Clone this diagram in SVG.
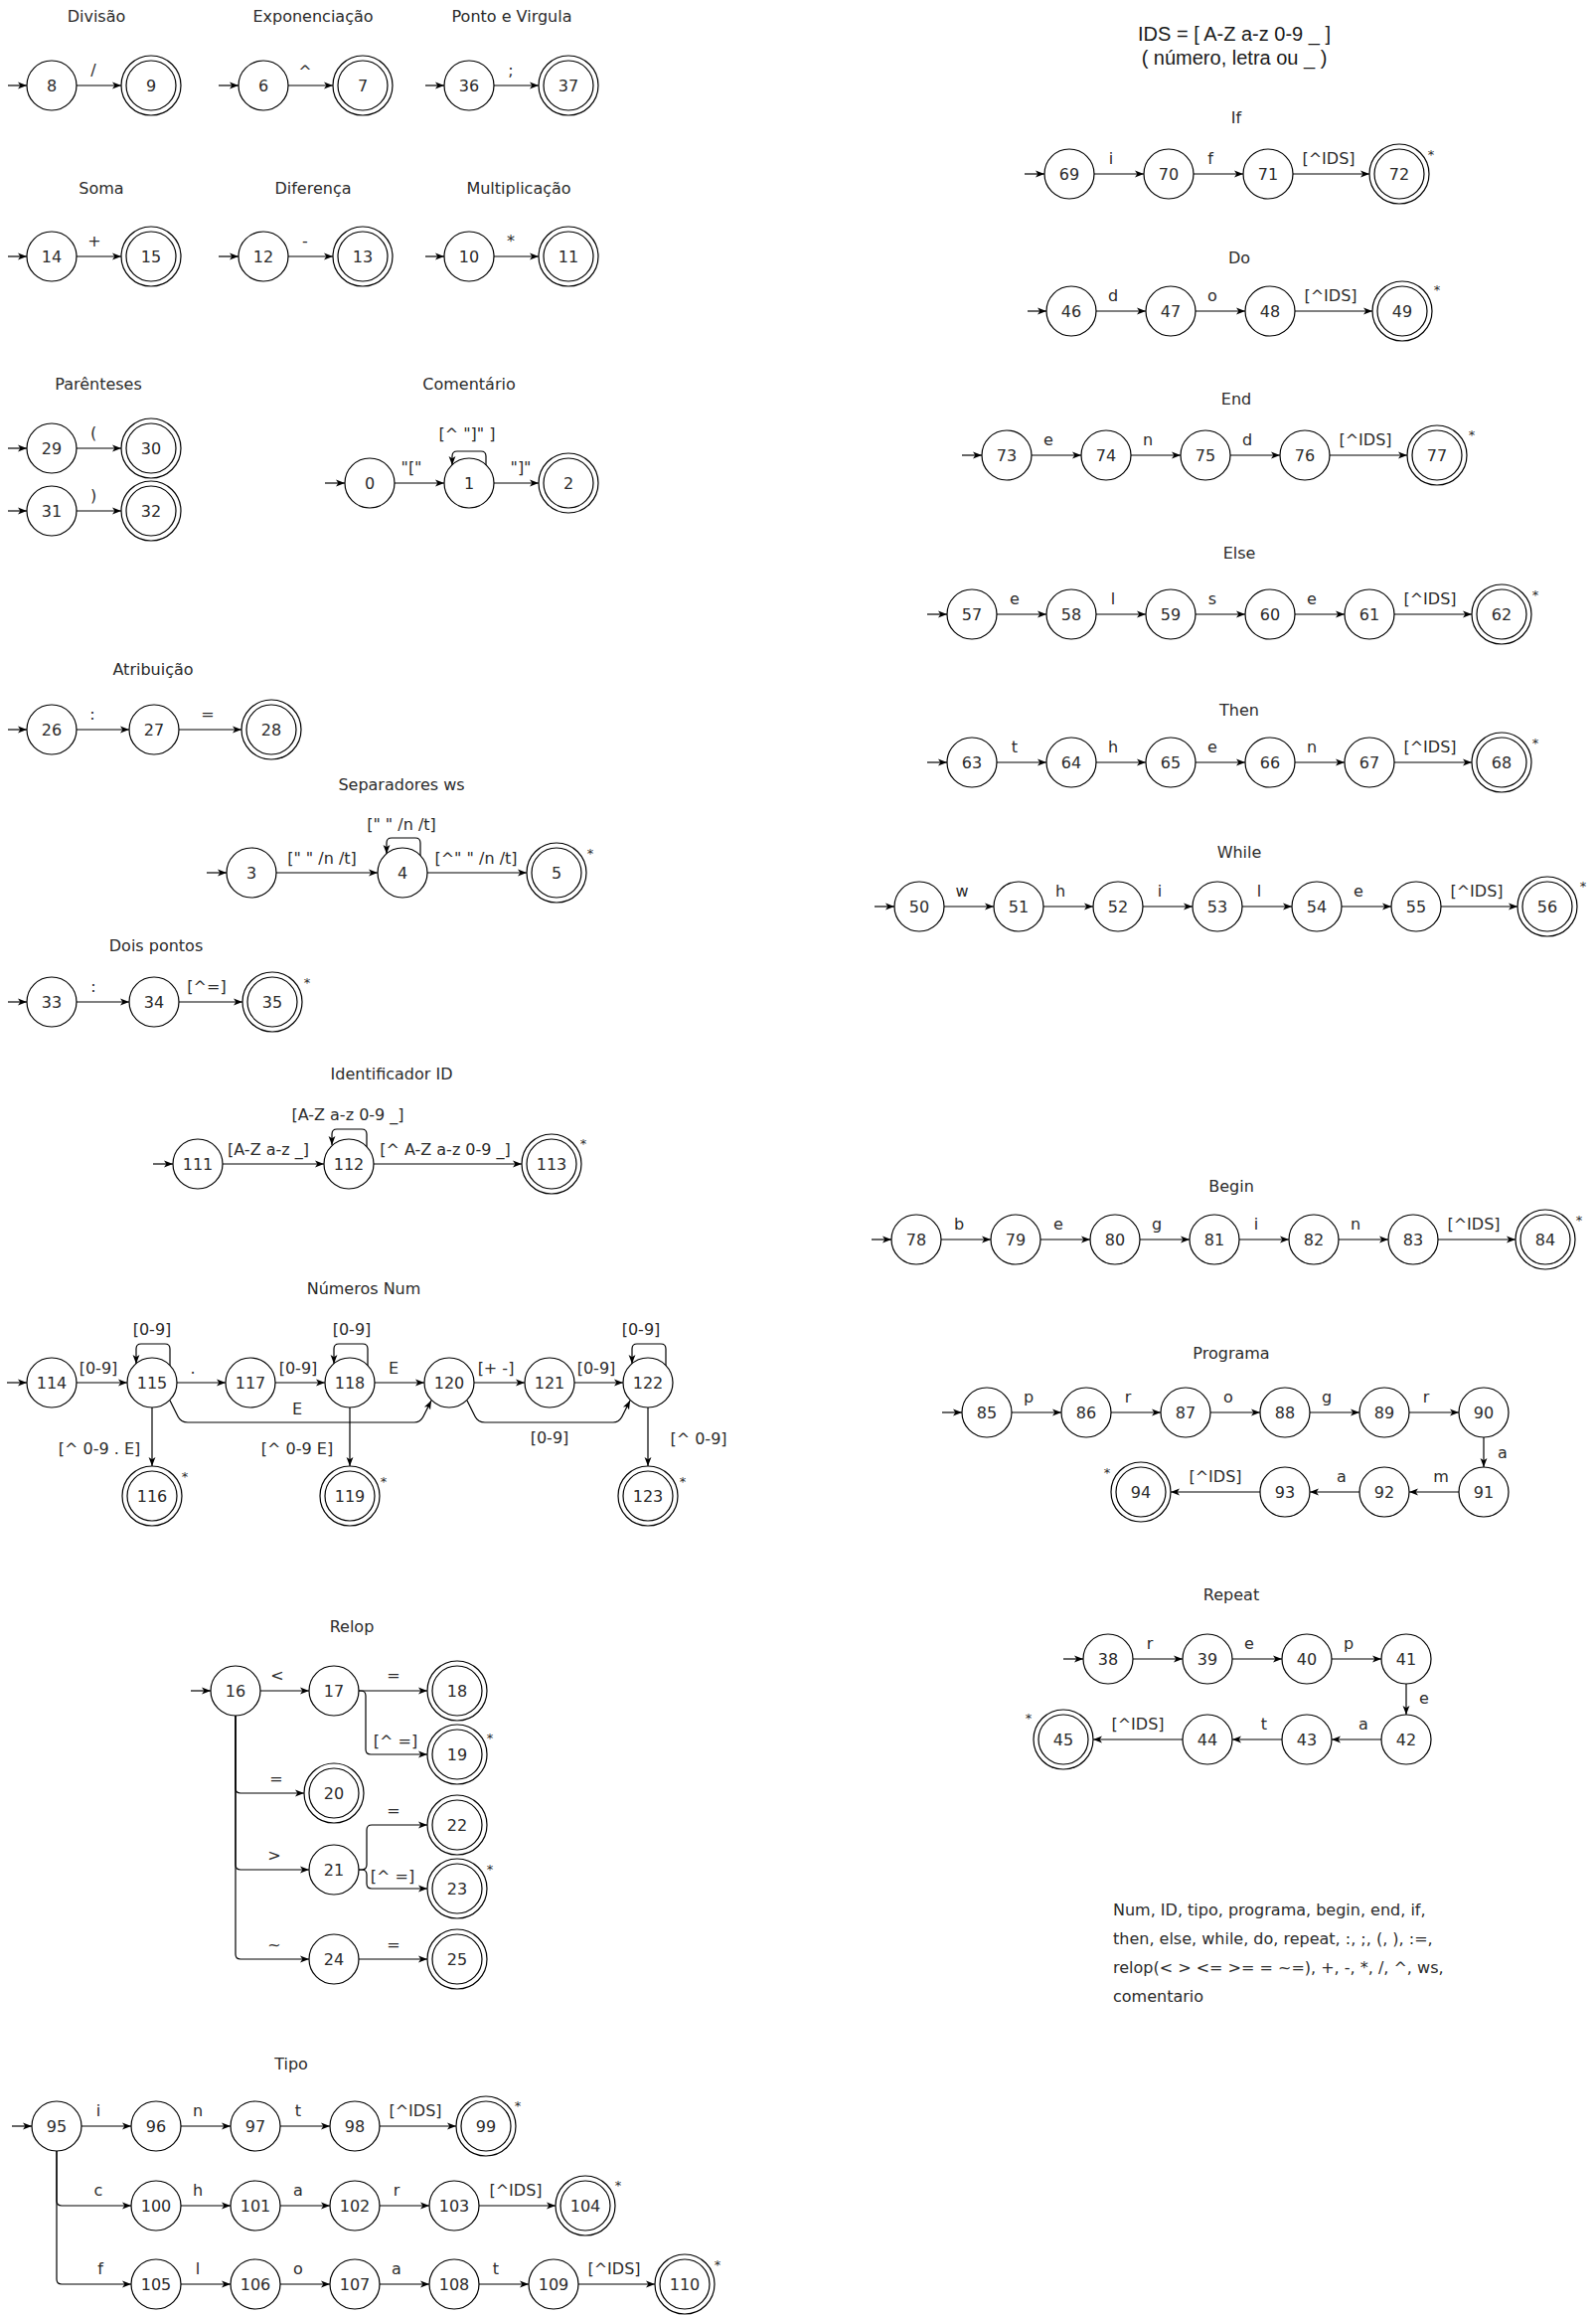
<svg xmlns="http://www.w3.org/2000/svg" width="1606" height="2329" viewBox="0 0 1606 2329">
<defs>
<marker id="ar" viewBox="0 0 10 10" refX="10" refY="5" markerWidth="9" markerHeight="9" markerUnits="userSpaceOnUse" orient="auto"><path d="M0,1.2 L10,5 L0,8.8 L2.6,5 Z" fill="#000"/></marker>
<style>
circle{fill:#fff;stroke:#000;stroke-width:1.2}
text{font-family:"DejaVu Sans",Verdana,sans-serif;font-size:16px;fill:#2b2b2b;text-anchor:middle}
.e{fill:none;stroke:#000;stroke-width:1.2;marker-end:url(#ar)}
.st{font-size:13px}
.ids{font-family:"Liberation Sans",Arial,sans-serif;font-size:20px;fill:#1a1a1a}
.blk{text-anchor:start}
</style>
</defs>
<rect width="1606" height="2329" fill="#fff"/>

<g id="titles">
<text x="97" y="22">Divisão</text>
<text x="315" y="22">Exponenciação</text>
<text x="515" y="22">Ponto e Virgula</text>
<text x="102" y="195">Soma</text>
<text x="315" y="195">Diferença</text>
<text x="522" y="195">Multiplicação</text>
<text x="99" y="392">Parênteses</text>
<text x="472" y="392">Comentário</text>
<text x="154" y="679">Atribuição</text>
<text x="404" y="795">Separadores ws</text>
<text x="157" y="957">Dois pontos</text>
<text x="394" y="1086">Identificador ID</text>
<text x="366" y="1302">Números Num</text>
<text x="354" y="1642">Relop</text>
<text x="293" y="2082">Tipo</text>
<text class="ids" x="1242" y="41">IDS = [ A-Z a-z 0-9 _ ]</text>
<text class="ids" x="1242" y="65">( número, letra ou _ )</text>
<text x="1244" y="124">If</text>
<text x="1247" y="265">Do</text>
<text x="1244" y="407">End</text>
<text x="1247" y="562">Else</text>
<text x="1247" y="720">Then</text>
<text x="1247" y="863">While</text>
<text x="1239" y="1199">Begin</text>
<text x="1239" y="1367">Programa</text>
<text x="1239" y="1610">Repeat</text>
<text class="blk" x="1120" y="1927">Num, ID, tipo, programa, begin, end, if,</text>
<text class="blk" x="1120" y="1956">then, else, while, do, repeat, :, ;, (, ), :=,</text>
<text class="blk" x="1120" y="1985">relop(&lt; &gt; &lt;= &gt;= = ~=), +, -, *, /, ^, ws,</text>
<text class="blk" x="1120" y="2014">comentario</text>
</g>

<g id="connectors">
<!-- row 1 -->
<path class="e" d="M8,86H27"/><path class="e" d="M77,86H122"/>
<path class="e" d="M220,86H240"/><path class="e" d="M290,86H335"/>
<path class="e" d="M428,86H447"/><path class="e" d="M497,86H542"/>
<!-- row 2 -->
<path class="e" d="M8,258H27"/><path class="e" d="M77,258H122"/>
<path class="e" d="M220,258H240"/><path class="e" d="M290,258H335"/>
<path class="e" d="M428,258H447"/><path class="e" d="M497,258H542"/>
<!-- parenteses -->
<path class="e" d="M8,451H27"/><path class="e" d="M77,451H122"/>
<path class="e" d="M8,514H27"/><path class="e" d="M77,514H122"/>
<!-- comentario -->
<path class="e" d="M327,486H347"/><path class="e" d="M397,486H447"/><path class="e" d="M497,486H542"/>
<path class="e" d="M489,468V459Q489,454 484,454H460Q455,454 455,459V468"/>
<!-- atribuicao -->
<path class="e" d="M8,734H27"/><path class="e" d="M77,734H130"/><path class="e" d="M180,734H243"/>
<!-- separadores -->
<path class="e" d="M208,878H228"/><path class="e" d="M278,878H380"/><path class="e" d="M430,878H530"/>
<path class="e" d="M423,861V848Q423,843 418,843H394Q389,843 389,848V859"/>
<!-- dois pontos -->
<path class="e" d="M8,1008H27"/><path class="e" d="M77,1008H130"/><path class="e" d="M180,1008H244"/>
<!-- ID -->
<path class="e" d="M154,1171H174"/><path class="e" d="M224,1171H326"/><path class="e" d="M376,1171H525"/>
<path class="e" d="M369,1154V1141Q369,1136 364,1136H339Q334,1136 334,1141V1152"/>
<!-- numeros -->
<path class="e" d="M7,1391H27"/><path class="e" d="M77,1391H128"/><path class="e" d="M178,1391H227"/>
<path class="e" d="M277,1391H327"/><path class="e" d="M377,1391H427"/><path class="e" d="M477,1391H528"/><path class="e" d="M578,1391H627"/>
<path class="e" d="M171,1374V1357Q171,1352 166,1352H142Q137,1352 137,1357V1372"/>
<path class="e" d="M370,1374V1357Q370,1352 365,1352H341Q336,1352 336,1357V1372"/>
<path class="e" d="M670,1374V1357Q670,1352 665,1352H641Q636,1352 636,1357V1372"/>
<path class="e" d="M171,1409L179,1425Q182,1431 189,1431H417Q423,1431 426,1425L434,1409"/>
<path class="e" d="M470,1409L478,1425Q481,1431 488,1431H617Q623,1431 626,1425L634,1409"/>
<path class="e" d="M153,1416V1475"/><path class="e" d="M352,1416V1475"/><path class="e" d="M652,1416V1475"/>
<!-- relop -->
<path class="e" d="M192,1701H212"/><path class="e" d="M262,1701H311"/><path class="e" d="M361,1701H430"/>
<path class="e" d="M361,1701H363Q368,1701 368,1706V1760Q368,1765 373,1765H430"/>
<path class="e" d="M237,1726V1799Q237,1804 242,1804H306"/>
<path class="e" d="M237,1726V1876Q237,1881 242,1881H311"/>
<path class="e" d="M237,1726V1966Q237,1971 242,1971H311"/>
<path class="e" d="M361,1881H364Q369,1881 369,1876V1841Q369,1836 374,1836H430"/>
<path class="e" d="M361,1881H364Q369,1881 369,1886V1895Q369,1900 374,1900H430"/>
<path class="e" d="M361,1971H430"/>
<!-- tipo -->
<path class="e" d="M12,2139H32"/><path class="e" d="M82,2139H132"/><path class="e" d="M182,2139H232"/><path class="e" d="M282,2139H332"/><path class="e" d="M382,2139H459"/>
<path class="e" d="M57,2164V2214Q57,2219 62,2219H132"/>
<path class="e" d="M182,2219H232"/><path class="e" d="M282,2219H332"/><path class="e" d="M382,2219H432"/><path class="e" d="M482,2219H559"/>
<path class="e" d="M57,2164V2293Q57,2298 62,2298H132"/>
<path class="e" d="M182,2298H232"/><path class="e" d="M282,2298H332"/><path class="e" d="M382,2298H432"/><path class="e" d="M482,2298H532"/><path class="e" d="M582,2298H659"/>
<!-- if -->
<path class="e" d="M1031,175H1051"/><path class="e" d="M1101,175H1151"/><path class="e" d="M1201,175H1251"/><path class="e" d="M1301,175H1378"/>
<!-- do -->
<path class="e" d="M1034,313H1053"/><path class="e" d="M1103,313H1153"/><path class="e" d="M1203,313H1253"/><path class="e" d="M1303,313H1381"/>
<!-- end -->
<path class="e" d="M968,458H988"/><path class="e" d="M1038,458H1088"/><path class="e" d="M1138,458H1188"/><path class="e" d="M1238,458H1288"/><path class="e" d="M1338,458H1416"/>
<!-- else -->
<path class="e" d="M933,618H953"/><path class="e" d="M1003,618H1053"/><path class="e" d="M1103,618H1153"/><path class="e" d="M1203,618H1253"/><path class="e" d="M1303,618H1353"/><path class="e" d="M1403,618H1481"/>
<!-- then -->
<path class="e" d="M933,767H953"/><path class="e" d="M1003,767H1053"/><path class="e" d="M1103,767H1153"/><path class="e" d="M1203,767H1253"/><path class="e" d="M1303,767H1353"/><path class="e" d="M1403,767H1481"/>
<!-- while -->
<path class="e" d="M880,912H900"/><path class="e" d="M950,912H1000"/><path class="e" d="M1050,912H1100"/><path class="e" d="M1150,912H1200"/><path class="e" d="M1250,912H1300"/><path class="e" d="M1350,912H1400"/><path class="e" d="M1450,912H1527"/>
<!-- begin -->
<path class="e" d="M877,1247H897"/><path class="e" d="M947,1247H997"/><path class="e" d="M1047,1247H1097"/><path class="e" d="M1147,1247H1197"/><path class="e" d="M1247,1247H1297"/><path class="e" d="M1347,1247H1397"/><path class="e" d="M1447,1247H1525"/>
<!-- programa -->
<path class="e" d="M948,1421H968"/><path class="e" d="M1018,1421H1068"/><path class="e" d="M1118,1421H1168"/><path class="e" d="M1218,1421H1268"/><path class="e" d="M1318,1421H1368"/><path class="e" d="M1418,1421H1468"/>
<path class="e" d="M1493,1446V1476"/>
<path class="e" d="M1468,1501H1418"/><path class="e" d="M1368,1501H1318"/><path class="e" d="M1268,1501H1178"/>
<!-- repeat -->
<path class="e" d="M1070,1669H1090"/><path class="e" d="M1140,1669H1190"/><path class="e" d="M1240,1669H1290"/><path class="e" d="M1340,1669H1390"/>
<path class="e" d="M1415,1694V1725"/>
<path class="e" d="M1390,1750H1340"/><path class="e" d="M1290,1750H1240"/><path class="e" d="M1190,1750H1100"/>
</g>

<g id="edge-labels">
<text x="94" y="76">/</text><text x="307" y="77">^</text><text x="514" y="76">;</text>
<text x="95" y="248">+</text><text x="307" y="248">-</text><text x="514" y="248">*</text>
<text x="94" y="441">(</text><text x="94" y="504">)</text>
<text x="414" y="476">"["</text><text x="524" y="476">"]"</text><text x="470" y="442">[^ "]" ]</text>
<text x="93" y="724">:</text><text x="209" y="724">=</text>
<text x="324" y="869">[" " /n /t]</text><text x="479" y="869">[^" " /n /t]</text><text x="404" y="835">[" " /n /t]</text>
<text x="94" y="998">:</text><text x="208" y="998">[^=]</text>
<text x="270" y="1162">[A-Z a-z _]</text><text x="448" y="1162">[^ A-Z a-z 0-9 _]</text><text x="350" y="1127">[A-Z a-z 0-9 _]</text>
<text x="99" y="1382">[0-9]</text><text x="194" y="1382">.</text><text x="300" y="1382">[0-9]</text><text x="396" y="1382">E</text><text x="499" y="1382">[+ -]</text><text x="600" y="1382">[0-9]</text>
<text x="153" y="1343">[0-9]</text><text x="354" y="1343">[0-9]</text><text x="645" y="1343">[0-9]</text>
<text x="299" y="1423">E</text><text x="553" y="1452">[0-9]</text>
<text x="100" y="1463">[^ 0-9 . E]</text><text x="299" y="1463">[^ 0-9 E]</text><text x="703" y="1453">[^ 0-9]</text>
<text x="279" y="1691">&lt;</text><text x="396" y="1691">=</text><text x="398" y="1757">[^ =]</text>
<text x="278" y="1795">=</text><text x="276" y="1872">&gt;</text><text x="276" y="1962">~</text>
<text x="396" y="1827">=</text><text x="395" y="1893">[^ =]</text><text x="396" y="1962">=</text>
<text x="99" y="2129">i</text><text x="199" y="2129">n</text><text x="300" y="2129">t</text><text x="418" y="2129">[^IDS]</text>
<text x="99" y="2209">c</text><text x="199" y="2209">h</text><text x="300" y="2209">a</text><text x="399" y="2209">r</text><text x="519" y="2209">[^IDS]</text>
<text x="101" y="2288">f</text><text x="199" y="2288">l</text><text x="300" y="2288">o</text><text x="399" y="2288">a</text><text x="499" y="2288">t</text><text x="618" y="2288">[^IDS]</text>
<text x="1118" y="165">i</text><text x="1218" y="165">f</text><text x="1337" y="165">[^IDS]</text>
<text x="1120" y="303">d</text><text x="1220" y="303">o</text><text x="1339" y="303">[^IDS]</text>
<text x="1055" y="448">e</text><text x="1155" y="448">n</text><text x="1255" y="448">d</text><text x="1374" y="448">[^IDS]</text>
<text x="1021" y="608">e</text><text x="1120" y="608">l</text><text x="1220" y="608">s</text><text x="1320" y="608">e</text><text x="1439" y="608">[^IDS]</text>
<text x="1021" y="757">t</text><text x="1120" y="757">h</text><text x="1220" y="757">e</text><text x="1320" y="757">n</text><text x="1439" y="757">[^IDS]</text>
<text x="968" y="902">w</text><text x="1067" y="902">h</text><text x="1167" y="902">i</text><text x="1267" y="902">l</text><text x="1367" y="902">e</text><text x="1486" y="902">[^IDS]</text>
<text x="965" y="1237">b</text><text x="1065" y="1237">e</text><text x="1164" y="1237">g</text><text x="1264" y="1237">i</text><text x="1364" y="1237">n</text><text x="1483" y="1237">[^IDS]</text>
<text x="1035" y="1411">p</text><text x="1135" y="1411">r</text><text x="1236" y="1411">o</text><text x="1335" y="1411">g</text><text x="1435" y="1411">r</text>
<text x="1512" y="1467">a</text>
<text x="1450" y="1491">m</text><text x="1350" y="1491">a</text><text x="1223" y="1491">[^IDS]</text>
<text x="1157" y="1659">r</text><text x="1257" y="1659">e</text><text x="1357" y="1659">p</text>
<text x="1433" y="1714">e</text>
<text x="1372" y="1740">a</text><text x="1272" y="1740">t</text><text x="1145" y="1740">[^IDS]</text>
</g>

<g id="stars">
<text class="st" x="594" y="863">*</text><text class="st" x="309" y="993">*</text><text class="st" x="587" y="1155">*</text>
<text class="st" x="186" y="1490">*</text><text class="st" x="386" y="1495">*</text><text class="st" x="687" y="1495">*</text>
<text class="st" x="493" y="1753">*</text><text class="st" x="493" y="1885">*</text>
<text class="st" x="521" y="2123">*</text><text class="st" x="622" y="2203">*</text><text class="st" x="722" y="2283">*</text>
<text class="st" x="1440" y="160">*</text><text class="st" x="1446" y="296">*</text><text class="st" x="1481" y="442">*</text>
<text class="st" x="1545" y="603">*</text><text class="st" x="1545" y="752">*</text><text class="st" x="1593" y="896">*</text>
<text class="st" x="1589" y="1232">*</text><text class="st" x="1114" y="1486">*</text><text class="st" x="1035" y="1733">*</text>
</g>

<g id="nodes">
<g id="n8"><circle cx="52" cy="86" r="25"/><text x="52" y="92">8</text></g>
<g id="n9"><circle cx="152" cy="86" r="30"/><circle cx="152" cy="86" r="25"/><text x="152" y="92">9</text></g>
<g id="n6"><circle cx="265" cy="86" r="25"/><text x="265" y="92">6</text></g>
<g id="n7"><circle cx="365" cy="86" r="30"/><circle cx="365" cy="86" r="25"/><text x="365" y="92">7</text></g>
<g id="n36"><circle cx="472" cy="86" r="25"/><text x="472" y="92">36</text></g>
<g id="n37"><circle cx="572" cy="86" r="30"/><circle cx="572" cy="86" r="25"/><text x="572" y="92">37</text></g>
<g id="n14"><circle cx="52" cy="258" r="25"/><text x="52" y="264">14</text></g>
<g id="n15"><circle cx="152" cy="258" r="30"/><circle cx="152" cy="258" r="25"/><text x="152" y="264">15</text></g>
<g id="n12"><circle cx="265" cy="258" r="25"/><text x="265" y="264">12</text></g>
<g id="n13"><circle cx="365" cy="258" r="30"/><circle cx="365" cy="258" r="25"/><text x="365" y="264">13</text></g>
<g id="n10"><circle cx="472" cy="258" r="25"/><text x="472" y="264">10</text></g>
<g id="n11"><circle cx="572" cy="258" r="30"/><circle cx="572" cy="258" r="25"/><text x="572" y="264">11</text></g>
<g id="n29"><circle cx="52" cy="451" r="25"/><text x="52" y="457">29</text></g>
<g id="n30"><circle cx="152" cy="451" r="30"/><circle cx="152" cy="451" r="25"/><text x="152" y="457">30</text></g>
<g id="n31"><circle cx="52" cy="514" r="25"/><text x="52" y="520">31</text></g>
<g id="n32"><circle cx="152" cy="514" r="30"/><circle cx="152" cy="514" r="25"/><text x="152" y="520">32</text></g>
<g id="n0"><circle cx="372" cy="486" r="25"/><text x="372" y="492">0</text></g>
<g id="n1"><circle cx="472" cy="486" r="25"/><text x="472" y="492">1</text></g>
<g id="n2"><circle cx="572" cy="486" r="30"/><circle cx="572" cy="486" r="25"/><text x="572" y="492">2</text></g>
<g id="n26"><circle cx="52" cy="734" r="25"/><text x="52" y="740">26</text></g>
<g id="n27"><circle cx="155" cy="734" r="25"/><text x="155" y="740">27</text></g>
<g id="n28"><circle cx="273" cy="734" r="30"/><circle cx="273" cy="734" r="25"/><text x="273" y="740">28</text></g>
<g id="n3"><circle cx="253" cy="878" r="25"/><text x="253" y="884">3</text></g>
<g id="n4"><circle cx="405" cy="878" r="25"/><text x="405" y="884">4</text></g>
<g id="n5"><circle cx="560" cy="878" r="30"/><circle cx="560" cy="878" r="25"/><text x="560" y="884">5</text></g>
<g id="n33"><circle cx="52" cy="1008" r="25"/><text x="52" y="1014">33</text></g>
<g id="n34"><circle cx="155" cy="1008" r="25"/><text x="155" y="1014">34</text></g>
<g id="n35"><circle cx="274" cy="1008" r="30"/><circle cx="274" cy="1008" r="25"/><text x="274" y="1014">35</text></g>
<g id="n111"><circle cx="199" cy="1171" r="25"/><text x="199" y="1177">111</text></g>
<g id="n112"><circle cx="351" cy="1171" r="25"/><text x="351" y="1177">112</text></g>
<g id="n113"><circle cx="555" cy="1171" r="30"/><circle cx="555" cy="1171" r="25"/><text x="555" y="1177">113</text></g>
<g id="n114"><circle cx="52" cy="1391" r="25"/><text x="52" y="1397">114</text></g>
<g id="n115"><circle cx="153" cy="1391" r="25"/><text x="153" y="1397">115</text></g>
<g id="n117"><circle cx="252" cy="1391" r="25"/><text x="252" y="1397">117</text></g>
<g id="n118"><circle cx="352" cy="1391" r="25"/><text x="352" y="1397">118</text></g>
<g id="n120"><circle cx="452" cy="1391" r="25"/><text x="452" y="1397">120</text></g>
<g id="n121"><circle cx="553" cy="1391" r="25"/><text x="553" y="1397">121</text></g>
<g id="n122"><circle cx="652" cy="1391" r="25"/><text x="652" y="1397">122</text></g>
<g id="n116"><circle cx="153" cy="1505" r="30"/><circle cx="153" cy="1505" r="25"/><text x="153" y="1511">116</text></g>
<g id="n119"><circle cx="352" cy="1505" r="30"/><circle cx="352" cy="1505" r="25"/><text x="352" y="1511">119</text></g>
<g id="n123"><circle cx="652" cy="1505" r="30"/><circle cx="652" cy="1505" r="25"/><text x="652" y="1511">123</text></g>
<g id="n16"><circle cx="237" cy="1701" r="25"/><text x="237" y="1707">16</text></g>
<g id="n17"><circle cx="336" cy="1701" r="25"/><text x="336" y="1707">17</text></g>
<g id="n18"><circle cx="460" cy="1701" r="30"/><circle cx="460" cy="1701" r="25"/><text x="460" y="1707">18</text></g>
<g id="n19"><circle cx="460" cy="1765" r="30"/><circle cx="460" cy="1765" r="25"/><text x="460" y="1771">19</text></g>
<g id="n20"><circle cx="336" cy="1804" r="30"/><circle cx="336" cy="1804" r="25"/><text x="336" y="1810">20</text></g>
<g id="n21"><circle cx="336" cy="1881" r="25"/><text x="336" y="1887">21</text></g>
<g id="n22"><circle cx="460" cy="1836" r="30"/><circle cx="460" cy="1836" r="25"/><text x="460" y="1842">22</text></g>
<g id="n23"><circle cx="460" cy="1900" r="30"/><circle cx="460" cy="1900" r="25"/><text x="460" y="1906">23</text></g>
<g id="n24"><circle cx="336" cy="1971" r="25"/><text x="336" y="1977">24</text></g>
<g id="n25"><circle cx="460" cy="1971" r="30"/><circle cx="460" cy="1971" r="25"/><text x="460" y="1977">25</text></g>
<g id="n95"><circle cx="57" cy="2139" r="25"/><text x="57" y="2145">95</text></g>
<g id="n96"><circle cx="157" cy="2139" r="25"/><text x="157" y="2145">96</text></g>
<g id="n97"><circle cx="257" cy="2139" r="25"/><text x="257" y="2145">97</text></g>
<g id="n98"><circle cx="357" cy="2139" r="25"/><text x="357" y="2145">98</text></g>
<g id="n99"><circle cx="489" cy="2139" r="30"/><circle cx="489" cy="2139" r="25"/><text x="489" y="2145">99</text></g>
<g id="n100"><circle cx="157" cy="2219" r="25"/><text x="157" y="2225">100</text></g>
<g id="n101"><circle cx="257" cy="2219" r="25"/><text x="257" y="2225">101</text></g>
<g id="n102"><circle cx="357" cy="2219" r="25"/><text x="357" y="2225">102</text></g>
<g id="n103"><circle cx="457" cy="2219" r="25"/><text x="457" y="2225">103</text></g>
<g id="n104"><circle cx="589" cy="2219" r="30"/><circle cx="589" cy="2219" r="25"/><text x="589" y="2225">104</text></g>
<g id="n105"><circle cx="157" cy="2298" r="25"/><text x="157" y="2304">105</text></g>
<g id="n106"><circle cx="257" cy="2298" r="25"/><text x="257" y="2304">106</text></g>
<g id="n107"><circle cx="357" cy="2298" r="25"/><text x="357" y="2304">107</text></g>
<g id="n108"><circle cx="457" cy="2298" r="25"/><text x="457" y="2304">108</text></g>
<g id="n109"><circle cx="557" cy="2298" r="25"/><text x="557" y="2304">109</text></g>
<g id="n110"><circle cx="689" cy="2298" r="30"/><circle cx="689" cy="2298" r="25"/><text x="689" y="2304">110</text></g>
<g id="n69"><circle cx="1076" cy="175" r="25"/><text x="1076" y="181">69</text></g>
<g id="n70"><circle cx="1176" cy="175" r="25"/><text x="1176" y="181">70</text></g>
<g id="n71"><circle cx="1276" cy="175" r="25"/><text x="1276" y="181">71</text></g>
<g id="n72"><circle cx="1408" cy="175" r="30"/><circle cx="1408" cy="175" r="25"/><text x="1408" y="181">72</text></g>
<g id="n46"><circle cx="1078" cy="313" r="25"/><text x="1078" y="319">46</text></g>
<g id="n47"><circle cx="1178" cy="313" r="25"/><text x="1178" y="319">47</text></g>
<g id="n48"><circle cx="1278" cy="313" r="25"/><text x="1278" y="319">48</text></g>
<g id="n49"><circle cx="1411" cy="313" r="30"/><circle cx="1411" cy="313" r="25"/><text x="1411" y="319">49</text></g>
<g id="n73"><circle cx="1013" cy="458" r="25"/><text x="1013" y="464">73</text></g>
<g id="n74"><circle cx="1113" cy="458" r="25"/><text x="1113" y="464">74</text></g>
<g id="n75"><circle cx="1213" cy="458" r="25"/><text x="1213" y="464">75</text></g>
<g id="n76"><circle cx="1313" cy="458" r="25"/><text x="1313" y="464">76</text></g>
<g id="n77"><circle cx="1446" cy="458" r="30"/><circle cx="1446" cy="458" r="25"/><text x="1446" y="464">77</text></g>
<g id="n57"><circle cx="978" cy="618" r="25"/><text x="978" y="624">57</text></g>
<g id="n58"><circle cx="1078" cy="618" r="25"/><text x="1078" y="624">58</text></g>
<g id="n59"><circle cx="1178" cy="618" r="25"/><text x="1178" y="624">59</text></g>
<g id="n60"><circle cx="1278" cy="618" r="25"/><text x="1278" y="624">60</text></g>
<g id="n61"><circle cx="1378" cy="618" r="25"/><text x="1378" y="624">61</text></g>
<g id="n62"><circle cx="1511" cy="618" r="30"/><circle cx="1511" cy="618" r="25"/><text x="1511" y="624">62</text></g>
<g id="n63"><circle cx="978" cy="767" r="25"/><text x="978" y="773">63</text></g>
<g id="n64"><circle cx="1078" cy="767" r="25"/><text x="1078" y="773">64</text></g>
<g id="n65"><circle cx="1178" cy="767" r="25"/><text x="1178" y="773">65</text></g>
<g id="n66"><circle cx="1278" cy="767" r="25"/><text x="1278" y="773">66</text></g>
<g id="n67"><circle cx="1378" cy="767" r="25"/><text x="1378" y="773">67</text></g>
<g id="n68"><circle cx="1511" cy="767" r="30"/><circle cx="1511" cy="767" r="25"/><text x="1511" y="773">68</text></g>
<g id="n50"><circle cx="925" cy="912" r="25"/><text x="925" y="918">50</text></g>
<g id="n51"><circle cx="1025" cy="912" r="25"/><text x="1025" y="918">51</text></g>
<g id="n52"><circle cx="1125" cy="912" r="25"/><text x="1125" y="918">52</text></g>
<g id="n53"><circle cx="1225" cy="912" r="25"/><text x="1225" y="918">53</text></g>
<g id="n54"><circle cx="1325" cy="912" r="25"/><text x="1325" y="918">54</text></g>
<g id="n55"><circle cx="1425" cy="912" r="25"/><text x="1425" y="918">55</text></g>
<g id="n56"><circle cx="1557" cy="912" r="30"/><circle cx="1557" cy="912" r="25"/><text x="1557" y="918">56</text></g>
<g id="n78"><circle cx="922" cy="1247" r="25"/><text x="922" y="1253">78</text></g>
<g id="n79"><circle cx="1022" cy="1247" r="25"/><text x="1022" y="1253">79</text></g>
<g id="n80"><circle cx="1122" cy="1247" r="25"/><text x="1122" y="1253">80</text></g>
<g id="n81"><circle cx="1222" cy="1247" r="25"/><text x="1222" y="1253">81</text></g>
<g id="n82"><circle cx="1322" cy="1247" r="25"/><text x="1322" y="1253">82</text></g>
<g id="n83"><circle cx="1422" cy="1247" r="25"/><text x="1422" y="1253">83</text></g>
<g id="n84"><circle cx="1555" cy="1247" r="30"/><circle cx="1555" cy="1247" r="25"/><text x="1555" y="1253">84</text></g>
<g id="n85"><circle cx="993" cy="1421" r="25"/><text x="993" y="1427">85</text></g>
<g id="n86"><circle cx="1093" cy="1421" r="25"/><text x="1093" y="1427">86</text></g>
<g id="n87"><circle cx="1193" cy="1421" r="25"/><text x="1193" y="1427">87</text></g>
<g id="n88"><circle cx="1293" cy="1421" r="25"/><text x="1293" y="1427">88</text></g>
<g id="n89"><circle cx="1393" cy="1421" r="25"/><text x="1393" y="1427">89</text></g>
<g id="n90"><circle cx="1493" cy="1421" r="25"/><text x="1493" y="1427">90</text></g>
<g id="n91"><circle cx="1493" cy="1501" r="25"/><text x="1493" y="1507">91</text></g>
<g id="n92"><circle cx="1393" cy="1501" r="25"/><text x="1393" y="1507">92</text></g>
<g id="n93"><circle cx="1293" cy="1501" r="25"/><text x="1293" y="1507">93</text></g>
<g id="n94"><circle cx="1148" cy="1501" r="30"/><circle cx="1148" cy="1501" r="25"/><text x="1148" y="1507">94</text></g>
<g id="n38"><circle cx="1115" cy="1669" r="25"/><text x="1115" y="1675">38</text></g>
<g id="n39"><circle cx="1215" cy="1669" r="25"/><text x="1215" y="1675">39</text></g>
<g id="n40"><circle cx="1315" cy="1669" r="25"/><text x="1315" y="1675">40</text></g>
<g id="n41"><circle cx="1415" cy="1669" r="25"/><text x="1415" y="1675">41</text></g>
<g id="n42"><circle cx="1415" cy="1750" r="25"/><text x="1415" y="1756">42</text></g>
<g id="n43"><circle cx="1315" cy="1750" r="25"/><text x="1315" y="1756">43</text></g>
<g id="n44"><circle cx="1215" cy="1750" r="25"/><text x="1215" y="1756">44</text></g>
<g id="n45"><circle cx="1070" cy="1750" r="30"/><circle cx="1070" cy="1750" r="25"/><text x="1070" y="1756">45</text></g>
</g>
</svg>
